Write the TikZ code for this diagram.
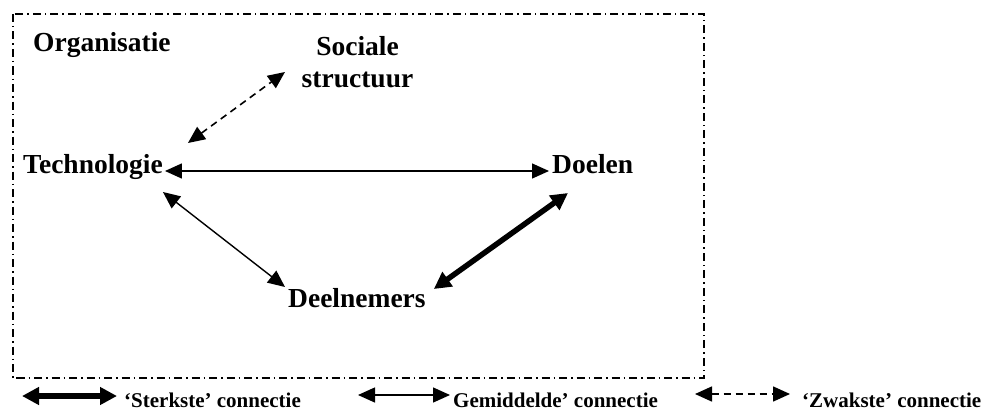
\documentclass[tikz,border=0pt]{standalone}
\usepackage{fontspec}
\setmainfont{Liberation Serif}
\usetikzlibrary{arrows.meta}
\begin{document}
\begin{tikzpicture}[x=1pt,y=-1pt,
  label/.style={inner sep=0pt,font=\fontsize{27.5}{32}\selectfont\bfseries},
  keytext/.style={inner sep=0pt,anchor=base west,font=\fontsize{21}{24}\selectfont\bfseries},
  frame/.style={line width=1.4pt,dash pattern=on 8pt off 4pt on 1.5pt off 4pt},
  mid/.style={line width=1.4pt,{Triangle[length=17pt,width=15pt]}-{Triangle[length=17pt,width=15pt]}},
  strong/.style={line width=5.5pt,{Triangle[length=17pt,width=17pt]}-{Triangle[length=17pt,width=17pt]}},
  weak/.style={line width=1.6pt,dash pattern=on 7pt off 5pt,{Triangle[length=17pt,width=15pt]}-{Triangle[length=17pt,width=15pt]}}]
  \useasboundingbox (0,0) rectangle (987,412);

  % organisation frame
  \draw[frame] (13,14) rectangle (704,378);

  % elements of the organisation
  \node[label,anchor=base west] (org) at (33,52) {Organisatie};
  \node[label,anchor=base,align=center] (soc) at (357.5,87) {Sociale\\structuur};
  \node[label,anchor=base west] (tech) at (23,173) {Technologie};
  \node[label,anchor=base west] (doel) at (552,173) {Doelen};
  \node[label,anchor=base west] (deel) at (288,307) {Deelnemers};

  % connections
  \draw[mid] ([shift={(2,-2)}]tech.base east) -- ([shift={(-3,-2)}]doel.base west);
  \draw[mid] ([shift={(0,19)}]tech.base east) -- ([shift={(-3,-20)}]deel.base west);
  \draw[strong] ([shift={(16,20)}]doel.base west) -- ([shift={(8,-18)}]deel.base east);
  \draw[weak] ([shift={(25,-30)}]tech.base east) -- ([shift={(-72.5,-15)}]soc.base);

  % legend
  \coordinate (s1) at (22,396);  \coordinate (s2) at (117,396);
  \coordinate (m1) at (358,395); \coordinate (m2) at (450,395);
  \coordinate (w1) at (695,394); \coordinate (w2) at (790,394);
  \draw[strong] (s1) -- (s2);
  \draw[mid] (m1) -- (m2);
  \draw[weak] (w1) -- (w2);
  \node[keytext] (ks) at (124,407) {‘Sterkste’ connectie};
  \node[keytext] (km) at (453,407) {Gemiddelde’ connectie};
  \node[keytext] (kw) at (802,407) {‘Zwakste’ connectie};
\end{tikzpicture}
\end{document}
